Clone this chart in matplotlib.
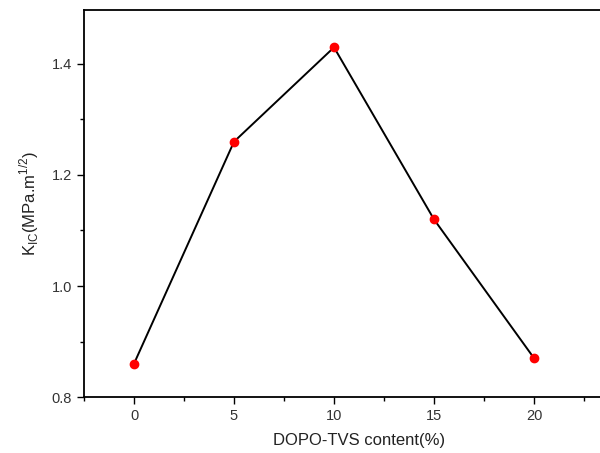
import matplotlib
matplotlib.use('Agg')
import matplotlib.pyplot as plt
from matplotlib.ticker import MultipleLocator

# DOPO-TVS content vs fracture toughness
content = [0, 5, 10, 15, 20]
kic = [0.86, 1.26, 1.43, 1.12, 0.87]

plt.rcParams['font.family'] = ['Liberation Sans', 'DejaVu Sans']

fig = plt.figure(figsize=(6, 4.53), dpi=100)
# axes run past the right edge of the figure, as in the original
ax = fig.add_axes([0.14, 0.1236, 0.9167, 0.854])

ax.plot(content, kic, color='black', lw=1.4, marker='o', markersize=6,
        markerfacecolor='red', markeredgecolor='red', zorder=3)

ax.set_xlim(-2.5, 25)
ax.set_ylim(0.8, 1.497)
ax.set_xticks([0, 5, 10, 15, 20])
ax.set_yticks([0.8, 1.0, 1.2, 1.4])
ax.xaxis.set_minor_locator(MultipleLocator(2.5))
ax.yaxis.set_minor_locator(MultipleLocator(0.1))
ax.tick_params(which='major', direction='out', length=5, width=1, labelsize=10.5,
               labelcolor='#333333')
ax.tick_params(which='minor', direction='out', length=3, width=1)

for s in ax.spines.values():
    s.set_linewidth(1.3)

ax.set_xlabel('DOPO-TVS content(%)', fontsize=12, color='#222222', labelpad=7)
ax.set_ylabel(r'K$_{\mathregular{IC}}$(MPa.m$^{\mathregular{1/2}}$)', fontsize=12,
              color='#222222', labelpad=8)

fig.savefig('out.png', dpi=100)
